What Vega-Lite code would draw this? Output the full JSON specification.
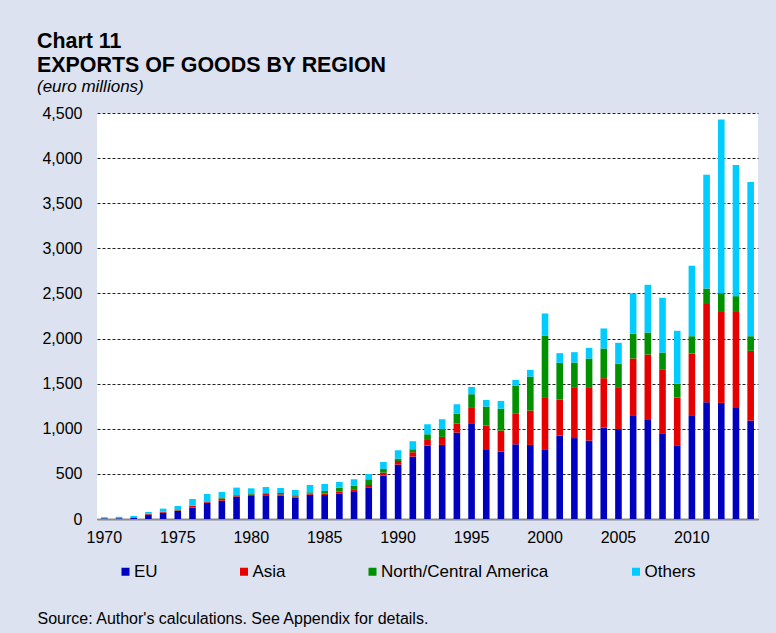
{
  "$schema": "https://vega.github.io/schema/vega-lite/v6.json",
  "width": 661,
  "height": 406,
  "autosize": {"type": "none"},
  "padding": {"left": 97, "top": 113, "right": 18, "bottom": 114},
  "background": "#dce2ef",
  "config": {
    "font": "Liberation Sans",
    "view": {"fill": "white", "stroke": null}
  },
  "title": {
    "text": ["Chart 11", "EXPORTS OF GOODS BY REGION"],
    "subtitle": "(euro millions)",
    "anchor": "start",
    "frame": "group",
    "dx": -60,
    "fontSize": 21.4,
    "fontWeight": "bold",
    "lineHeight": 24,
    "color": "black",
    "subtitleFontSize": 17,
    "subtitleFontStyle": "italic",
    "subtitleColor": "black",
    "subtitlePadding": 3,
    "offset": 10
  },
  "data": {
    "values": [
      {"year": 1970, "EU": 6, "Asia": 1, "North/Central America": 1, "Others": 12},
      {"year": 1971, "EU": 7, "Asia": 1, "North/Central America": 1, "Others": 15},
      {"year": 1972, "EU": 15, "Asia": 2, "North/Central America": 2, "Others": 14},
      {"year": 1973, "EU": 48, "Asia": 7, "North/Central America": 4, "Others": 19},
      {"year": 1974, "EU": 70, "Asia": 8, "North/Central America": 3, "Others": 34},
      {"year": 1975, "EU": 89, "Asia": 7, "North/Central America": 4, "Others": 44},
      {"year": 1976, "EU": 126, "Asia": 18, "North/Central America": 4, "Others": 74},
      {"year": 1977, "EU": 181, "Asia": 11, "North/Central America": 4, "Others": 81},
      {"year": 1978, "EU": 203, "Asia": 23, "North/Central America": 7, "Others": 67},
      {"year": 1979, "EU": 248, "Asia": 11, "North/Central America": 7, "Others": 82},
      {"year": 1980, "EU": 263, "Asia": 7, "North/Central America": 7, "Others": 63},
      {"year": 1981, "EU": 263, "Asia": 18, "North/Central America": 7, "Others": 67},
      {"year": 1982, "EU": 259, "Asia": 15, "North/Central America": 14, "Others": 56},
      {"year": 1983, "EU": 237, "Asia": 14, "North/Central America": 12, "Others": 59},
      {"year": 1984, "EU": 270, "Asia": 11, "North/Central America": 15, "Others": 81},
      {"year": 1985, "EU": 266, "Asia": 15, "North/Central America": 30, "Others": 77},
      {"year": 1986, "EU": 279, "Asia": 24, "North/Central America": 43, "Others": 64},
      {"year": 1987, "EU": 307, "Asia": 22, "North/Central America": 41, "Others": 70},
      {"year": 1988, "EU": 351, "Asia": 26, "North/Central America": 63, "Others": 59},
      {"year": 1989, "EU": 481, "Asia": 33, "North/Central America": 41, "Others": 77},
      {"year": 1990, "EU": 603, "Asia": 40, "North/Central America": 26, "Others": 93},
      {"year": 1991, "EU": 692, "Asia": 48, "North/Central America": 33, "Others": 89},
      {"year": 1992, "EU": 814, "Asia": 62, "North/Central America": 63, "Others": 111},
      {"year": 1993, "EU": 821, "Asia": 89, "North/Central America": 88, "Others": 108},
      {"year": 1994, "EU": 958, "Asia": 100, "North/Central America": 111, "Others": 103},
      {"year": 1995, "EU": 1061, "Asia": 170, "North/Central America": 152, "Others": 81},
      {"year": 1996, "EU": 765, "Asia": 270, "North/Central America": 211, "Others": 74},
      {"year": 1997, "EU": 747, "Asia": 233, "North/Central America": 244, "Others": 85},
      {"year": 1998, "EU": 828, "Asia": 344, "North/Central America": 304, "Others": 66},
      {"year": 1999, "EU": 821, "Asia": 381, "North/Central America": 377, "Others": 74},
      {"year": 2000, "EU": 773, "Asia": 569, "North/Central America": 692, "Others": 244},
      {"year": 2001, "EU": 925, "Asia": 399, "North/Central America": 407, "Others": 107},
      {"year": 2002, "EU": 897, "Asia": 564, "North/Central America": 273, "Others": 115},
      {"year": 2003, "EU": 869, "Asia": 592, "North/Central America": 318, "Others": 118},
      {"year": 2004, "EU": 1013, "Asia": 548, "North/Central America": 329, "Others": 222},
      {"year": 2005, "EU": 998, "Asia": 463, "North/Central America": 262, "Others": 230},
      {"year": 2006, "EU": 1150, "Asia": 629, "North/Central America": 273, "Others": 448},
      {"year": 2007, "EU": 1106, "Asia": 717, "North/Central America": 244, "Others": 529},
      {"year": 2008, "EU": 950, "Asia": 710, "North/Central America": 185, "Others": 607},
      {"year": 2009, "EU": 817, "Asia": 529, "North/Central America": 152, "Others": 588},
      {"year": 2010, "EU": 1150, "Asia": 684, "North/Central America": 192, "Others": 781},
      {"year": 2011, "EU": 1294, "Asia": 1099, "North/Central America": 162, "Others": 1261},
      {"year": 2012, "EU": 1287, "Asia": 1017, "North/Central America": 199, "Others": 1924},
      {"year": 2013, "EU": 1239, "Asia": 1065, "North/Central America": 166, "Others": 1454},
      {"year": 2014, "EU": 1091, "Asia": 773, "North/Central America": 162, "Others": 1709}
    ]
  },
  "transform": [
    {"fold": ["EU", "Asia", "North/Central America", "Others"], "as": ["region", "value"]},
    {"window": [{"op": "row_number", "as": "stackRank"}], "groupby": ["year"]}
  ],
  "mark": {"type": "bar"},
  "encoding": {
    "x": {
      "field": "year",
      "type": "ordinal",
      "scale": {"paddingInner": 0.55, "paddingOuter": 0.275},
      "axis": {
        "values": [1970, 1975, 1980, 1985, 1990, 1995, 2000, 2005, 2010],
        "labelAngle": 0,
        "ticks": false,
        "domainColor": "#8c8c8c",
        "domainWidth": 2,
        "labelFontSize": 16,
        "labelColor": "black",
        "labelPadding": 10,
        "title": "Source: Author's calculations. See Appendix for details.",
        "titleAnchor": "start",
        "titleAlign": "left",
        "titleBaseline": "alphabetic",
        "titleX": -60,
        "titleY": 104,
        "titleFontSize": 16,
        "titleFontWeight": "normal",
        "titleColor": "black"
      }
    },
    "y": {
      "field": "value",
      "type": "quantitative",
      "stack": "zero",
      "scale": {"domain": [0, 4500], "nice": false},
      "axis": {
        "values": [0, 500, 1000, 1500, 2000, 2500, 3000, 3500, 4000, 4500],
        "format": ",.0f",
        "grid": true,
        "gridColor": "#222222",
        "gridDash": [3, 2],
        "gridWidth": 1,
        "domain": false,
        "ticks": false,
        "labelFontSize": 16,
        "labelColor": "black",
        "labelPadding": 15,
        "title": null
      }
    },
    "order": {"field": "stackRank", "type": "quantitative", "sort": "ascending"},
    "color": {
      "field": "region",
      "type": "nominal",
      "sort": ["EU", "Asia", "North/Central America", "Others"],
      "scale": {
        "domain": ["EU", "Asia", "North/Central America", "Others"],
        "range": ["#0000bf", "#e60000", "#009100", "#00ccff"]
      },
      "legend": {
        "orient": "none",
        "legendX": 20,
        "legendY": 450,
        "direction": "horizontal",
        "title": null,
        "symbolType": "square",
        "symbolSize": 64,
        "symbolStrokeWidth": 0,
        "symbolOpacity": 1,
        "labelFontSize": 17,
        "labelColor": "black",
        "labelOffset": 0,
        "labelLimit": 400,
        "columnPadding": 77.5,
        "padding": 0
      }
    }
  }
}
